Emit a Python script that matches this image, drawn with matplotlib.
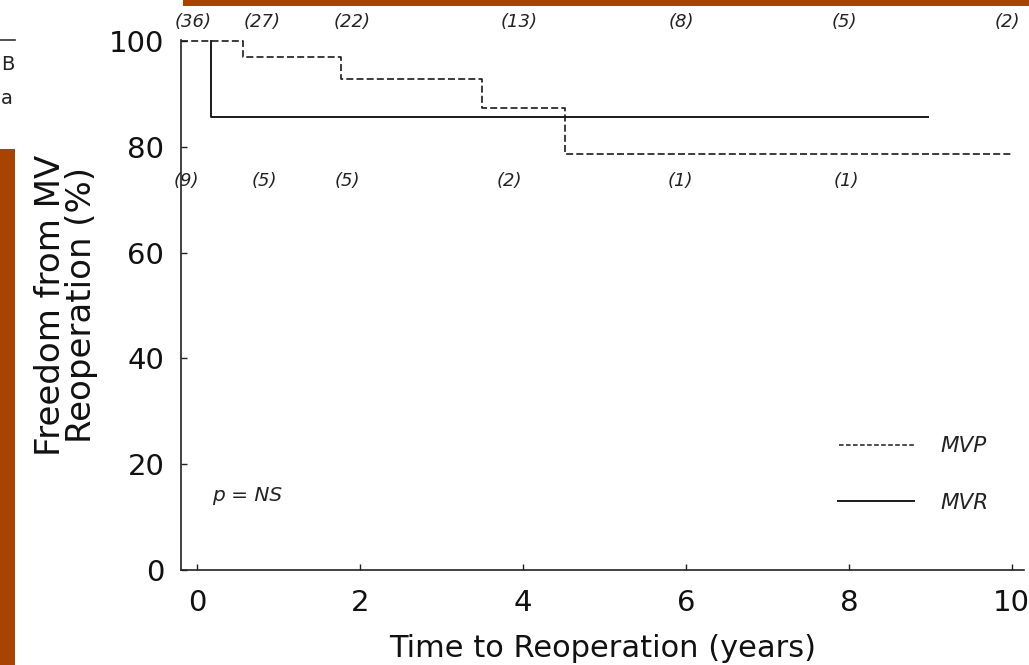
import matplotlib
matplotlib.use("Agg")
import matplotlib.pyplot as plt
from matplotlib.patches import Rectangle

plt.rcParams['font.family'] = ['DejaVu Sans']

# ---- data ----
# MVP (dashed): start time, event times, survival after each event
mvp_start = -0.2
mvp_times = [0.56, 1.77, 3.50, 4.52]
mvp_surv = [97.0, 92.8, 87.3, 78.6]
mvp_end = 10.0

# MVR (solid)
mvr_start = 0.17
mvr_times = [0.17]
mvr_surv = [85.7]
mvr_end = 8.97

# numbers at risk
mvp_risk_x = [-0.05, 0.8, 1.9, 3.95, 5.95, 7.95, 9.95]
mvp_risk = ["(36)", "(27)", "(22)", "(13)", "(8)", "(5)", "(2)"]
mvr_risk_x = [-0.13, 0.83, 1.84, 3.84, 5.93, 7.97]
mvr_risk = ["(9)", "(5)", "(5)", "(2)", "(1)", "(1)"]

xticks = [0, 2, 4, 6, 8, 10]
yticks = [0, 20, 40, 60, 80, 100]


def step_path(start, times, surv, end, s0=100.0):
    xs, ys = [start], [s0]
    cur = s0
    for t, s in zip(times, surv):
        xs += [t, t]
        ys += [cur, s]
        cur = s
    xs.append(end)
    ys.append(cur)
    return xs, ys


W, H = 1029, 665
fig = plt.figure(figsize=(W / 100, H / 100), dpi=100)
fig.patch.set_facecolor('white')

# slide background remnants
orange = '#A94300'
fig.patches.append(Rectangle((0, 0), 15 / W, (H - 149) / H, transform=fig.transFigure,
                             facecolor=orange, edgecolor='none', zorder=0))
fig.patches.append(Rectangle((183 / W, 1 - 6 / H), 1, 6 / H, transform=fig.transFigure,
                             facecolor=orange, edgecolor='none', zorder=0))
fig.lines.append(plt.Line2D([0, 15 / W], [1 - 40 / H, 1 - 40 / H], transform=fig.transFigure,
                            color='#333333', lw=1.2))
fig.text(1 / W, 1 - 64 / H, "B", ha='left', va='center', fontsize=14, color='#222222')
fig.text(1 / W, 1 - 98 / H, "a", ha='left', va='center', fontsize=14, color='#222222')

ax = fig.add_axes([181 / W, 1 - 570 / H, (1024 - 181) / W, (570 - 40) / H])
ax.set_xlim(-0.196, 10.15)
ax.set_ylim(0, 100.19)

x1, y1 = step_path(mvp_start, mvp_times, mvp_surv, mvp_end)
ax.plot(x1, y1, color='#1a1a1a', lw=1.2, dashes=(4.2, 1.9), clip_on=False)
x2, y2 = step_path(mvr_start, mvr_times, mvr_surv, mvr_end)
ax.plot(x2, y2, color='#1a1a1a', lw=1.4, clip_on=False)

for x, s in zip(mvp_risk_x, mvp_risk):
    ax.text(x, 103.6, s, ha='center', va='center', fontsize=13, style='italic',
            color='#222222', clip_on=False)
for x, s in zip(mvr_risk_x, mvr_risk):
    ax.text(x, 73.5, s, ha='center', va='center', fontsize=13, style='italic',
            color='#222222')

# legend
ax.plot([7.88, 8.8], [23.7, 23.7], color='#1a1a1a', lw=1.1, dashes=(3.0, 1.6))
ax.text(9.13, 23.4, "MVP", ha='left', va='center', fontsize=15.5, style='italic', color='#222222')
ax.plot([7.87, 8.8], [13.1, 13.1], color='#1a1a1a', lw=1.4)
ax.text(9.13, 12.6, "MVR", ha='left', va='center', fontsize=15.5, style='italic', color='#222222')

ax.text(0.18, 14.0, "p = NS", ha='left', va='center', fontsize=14.5, style='italic', color='#222222')

for sp in ['top', 'right']:
    ax.spines[sp].set_visible(False)
for sp in ['left', 'bottom']:
    ax.spines[sp].set_linewidth(1.2)
    ax.spines[sp].set_color('#222222')

ax.set_xticks(xticks)
ax.set_yticks(yticks)
ax.tick_params(axis='both', direction='in', length=4, width=1.0, colors='#222222',
               labelsize=21, labelcolor='#111111')
ax.tick_params(axis='y', pad=12)
ax.tick_params(axis='x', pad=14)

ax.set_xlabel("Time to Reoperation (years)", fontsize=22, color='#111111', labelpad=12)
ax.set_ylabel("Freedom from MV\nReoperation (%)", fontsize=24.5, color='#111111',
              labelpad=8, linespacing=0.92)

fig.savefig("out.png", dpi=100, facecolor='white')
